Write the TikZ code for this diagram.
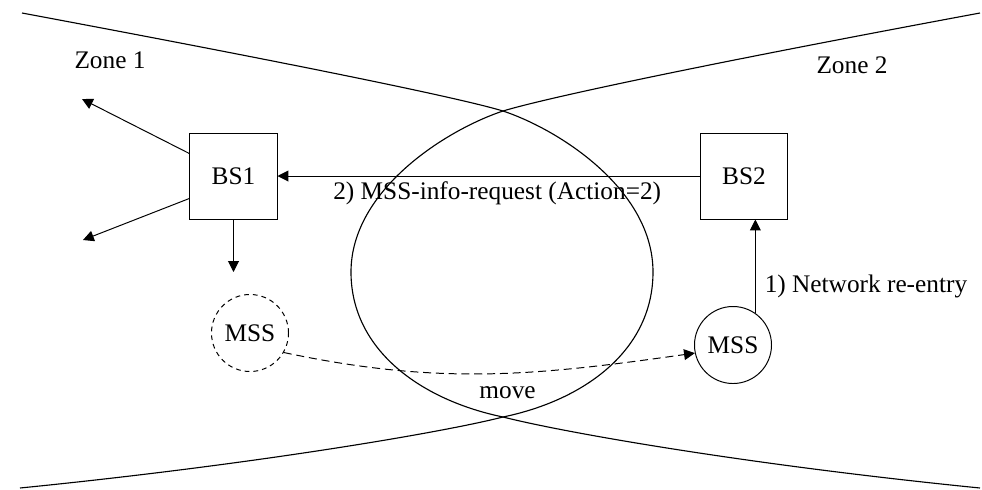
\documentclass[tikz,border=0pt]{standalone}
\usepackage{fontspec}
\setmainfont{Liberation Serif}
\usetikzlibrary{arrows.meta,positioning}

\begin{document}
\begin{tikzpicture}[x=0.025cm, y=-0.025cm, line width=0.7pt,
      font=\fontsize{18}{21}\selectfont, >={Triangle[length=0.27cm,width=0.27cm]},
      station/.style={draw, minimum width=2.175cm, minimum height=2.15cm, inner sep=0pt},
      mobile/.style={draw, circle, minimum size=1.925cm, inner sep=0pt},
      zone/.style={line width=0.8pt}]
    \useasboundingbox (0,0) rectangle (982,489);
    % borders of the two zones
    \draw[zone] (22,13) .. controls (300,65) and (460,98) .. (503,111)
      .. controls (560,130) and (653,190) .. (653,272)
      .. controls (653,350) and (585,400) .. (503,417)
      .. controls (440,433) and (250,465) .. (20,488);
    \draw[zone] (980,13) .. controls (700,65) and (546,98) .. (503,111)
      .. controls (446,130) and (351,190) .. (351,272)
      .. controls (351,350) and (421,400) .. (503,417)
      .. controls (566,433) and (750,465) .. (980,488);
    \node (Z1) at (110,60) {Zone 1};
    \node (Z2) at (852,65) {Zone 2};
    \node[station] (BS1) at (233.5,176) {BS1};
    \node[station] (BS2) at (744,176) {BS2};
    \node[mobile, dash pattern=on 0.12cm off 0.1cm] (MSS1) at (250,333) {MSS};
    \node[mobile] (MSS2) at (733,345) {MSS};
    \coordinate (N1) at (82,99);
    \coordinate (N2) at (83,240);
    \coordinate (D1) at (233.5,272);
    \draw[->] (BS1.153)--(N1);
    \draw[->] (BS1.207)--(N2);
    \draw[->] (BS1.south)--(D1);
    \draw[->] (BS2.west)--(BS1.east)
      node[below, pos=0.48] {2) MSS-info-request (Action=2)};
    \draw[->] (MSS2.55)--(MSS2.55 |- BS2.south)
      node[right=3pt, pos=0.28] {1) Network re-entry};
    \draw[->, dash pattern=on 0.2cm off 0.12cm] (MSS1.-30) to[out=-12, in=188]
      node[below=6pt, pos=0.55] {move} (MSS2.192);
\end{tikzpicture}
\end{document}
